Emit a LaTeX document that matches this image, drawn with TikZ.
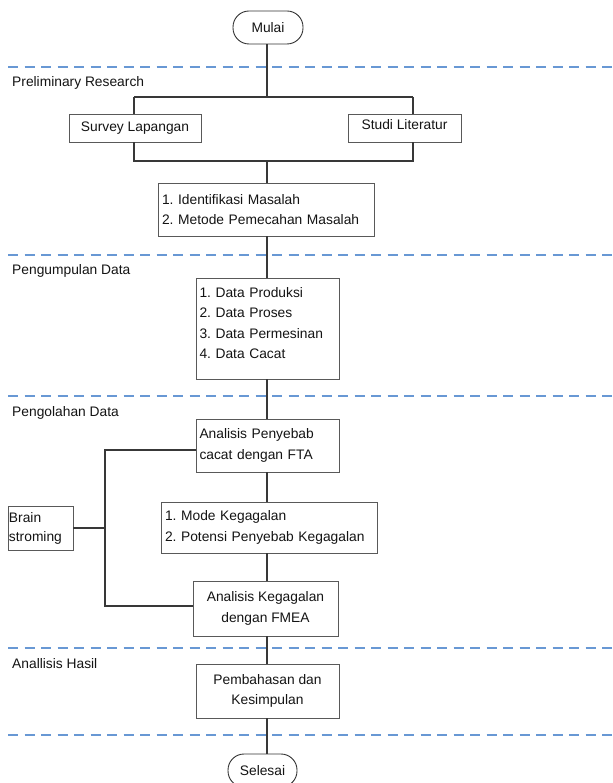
\documentclass[tikz,border=0pt]{standalone}
\usepackage{fontspec}
\setmainfont{Liberation Sans}
\begin{document}
\frenchspacing
\begin{tikzpicture}[x=1pt,y=-1pt,
  every node/.style={font=\fontsize{13.8}{20.5}\selectfont\frenchspacing, text=black!92},
  box/.style={draw=black!65, line width=0.9pt, rectangle, inner sep=0pt},
  term/.style={draw=black!80, line width=0.9pt, rectangle, rounded corners=16pt, inner sep=0pt},
  conn/.style={draw=black!78, line width=1.1pt},
  lane/.style={draw={rgb,255:red,104;green,152;blue,212}, line width=2pt, dash pattern=on 10pt off 6.5pt},
  lanelabel/.style={anchor=west, inner sep=0pt}
]
\useasboundingbox (0,0) rectangle (612,783);
\fill[white] (0,0) rectangle (612,783);

% lanes
\draw[lane] (8,67) -- (612,67);
\draw[lane] (8,255) -- (612,255);
\draw[lane] (8,396) -- (612,396);
\draw[lane] (8,648) -- (612,648);
\draw[lane] (8,735) -- (612,735);

\node[lanelabel] (l1) at (12,83) {Preliminary Research};
\node[lanelabel] (l2) at (12,271) {Pengumpulan Data};
\node[lanelabel] (l3) at (12,413) {Pengolahan Data};
\node[lanelabel] (l4) at (12,664) {Anallisis Hasil};

% nodes
\node[term, minimum width=70pt, minimum height=33pt] (mulai) at (268,27.5) {Mulai};
\node[box, minimum width=132pt, minimum height=28pt] (surv) at (135,128) {Survey Lapangan};
\node[box, minimum width=113pt, minimum height=28pt, text depth=7pt] (studi) at (404.5,128) {Studi Literatur};
\node[box, minimum width=216pt, minimum height=53pt, text width=208pt, inner xsep=4pt, align=left] (ident) at (266,209.5)
  {1. Identifikasi Masalah\\2. Metode Pemecahan Masalah};
\node[box, minimum width=143pt, minimum height=101pt, text width=136pt, inner xsep=3.5pt, align=left] (data) at (267.5,328.5)
  {1. Data Produksi\\2. Data Proses\\3. Data Permesinan\\4. Data Cacat\par\vspace{11pt}};
\node[box, minimum width=143pt, minimum height=53pt, text width=136pt, inner xsep=3.5pt, align=left] (fta) at (267.5,445.5)
  {Analisis Penyebab\\cacat dengan FTA};
\node[box, minimum width=216pt, minimum height=51pt, text width=208pt, inner xsep=4pt, align=left] (mode) at (269,527.5)
  {1. Mode Kegagalan\\2. Potensi Penyebab Kegagalan};
\node[box, minimum width=145pt, minimum height=55pt, align=center] (fmea) at (265.5,608.5)
  {Analisis Kegagalan\\dengan FMEA};
\node[box, minimum width=143pt, minimum height=54pt, align=center] (pemb) at (267.5,691)
  {Pembahasan dan\\Kesimpulan};
\node[box, minimum width=65pt, minimum height=44pt, text width=63pt, inner xsep=1pt, align=left, font=\fontsize{13.8}{19}\selectfont] (brain) at (40.5,528)
  {Brain\\stroming};
\node[term, minimum width=69pt, minimum height=33pt] (selesai) at (262.5,770.5) {Selesai};

% connectors
\coordinate (j1) at (267,97);
\coordinate (tl) at (134,97);
\coordinate (tr) at (413,97);
\coordinate (bl) at (134,161);
\coordinate (br) at (413,161);
\coordinate (j2) at (267,161);
\draw[conn] (mulai.south -| j1) -- (j1);
\draw[conn] (tl) -- (tr);
\draw[conn] (tl) -- (tl |- surv.north);
\draw[conn] (tr) -- (tr |- studi.north);
\draw[conn] (tl |- surv.south) -- (bl) -- (br) -- (tr |- studi.south);
\draw[conn] (j2) -- (j2 |- ident.north);
\draw[conn] (j2 |- ident.south) -- (j2 |- data.north);
\draw[conn] (j2 |- data.south) -- (j2 |- fta.north);
\draw[conn] (j2 |- fta.south) -- (j2 |- mode.north);
\draw[conn] (j2 |- mode.south) -- (j2 |- fmea.north);
\draw[conn] (j2 |- fmea.south) -- (j2 |- pemb.north);
\draw[conn] (j2 |- pemb.south) -- (j2 |- selesai.north);

\coordinate (lt) at (105,450);
\coordinate (lb) at (105,606);
\draw[conn] (fta.west |- lt) -- (lt) -- (lb) -- (fmea.west |- lb);
\draw[conn] (brain.east) -- (brain.east -| lt);
\end{tikzpicture}
\end{document}
